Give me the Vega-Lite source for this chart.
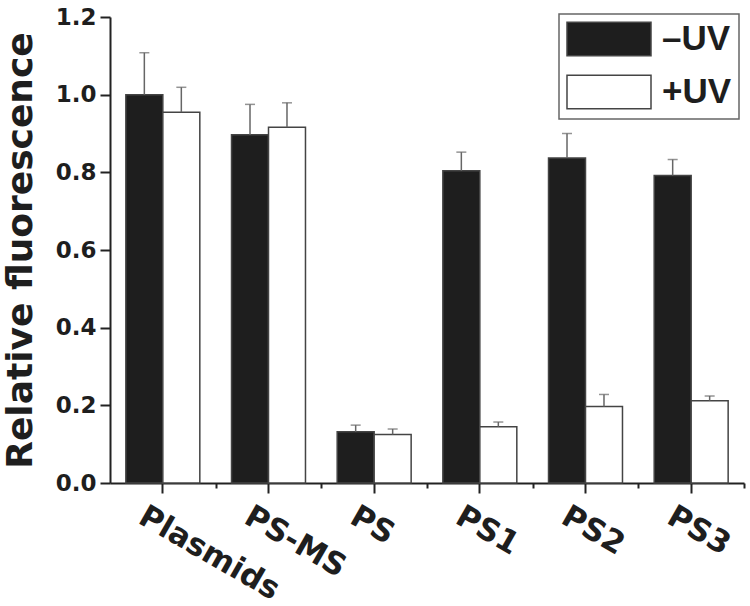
{
  "$schema": "https://vega.github.io/schema/vega-lite/v6.json",
  "width": 634,
  "height": 466,
  "autosize": {"type": "none"},
  "padding": {"left": 110, "top": 17, "right": 6, "bottom": 123},
  "background": "white",
  "config": {
    "view": {"stroke": null},
    "legend": {"strokeColor": "#666", "strokeWidth": 1.5, "fillColor": "white", "cornerRadius": 0, "padding": 7}
  },
  "data": {
    "values": [
      {"sample": "Plasmids", "cond": "–UV", "value": 1.0, "hi": 1.108},
      {"sample": "Plasmids", "cond": "+UV", "value": 0.955, "hi": 1.019},
      {"sample": "PS-MS", "cond": "–UV", "value": 0.897, "hi": 0.975},
      {"sample": "PS-MS", "cond": "+UV", "value": 0.916, "hi": 0.979},
      {"sample": "PS", "cond": "–UV", "value": 0.132, "hi": 0.149},
      {"sample": "PS", "cond": "+UV", "value": 0.125, "hi": 0.139},
      {"sample": "PS1", "cond": "–UV", "value": 0.804, "hi": 0.852},
      {"sample": "PS1", "cond": "+UV", "value": 0.145, "hi": 0.157},
      {"sample": "PS2", "cond": "–UV", "value": 0.837, "hi": 0.9},
      {"sample": "PS2", "cond": "+UV", "value": 0.197, "hi": 0.228},
      {"sample": "PS3", "cond": "–UV", "value": 0.792, "hi": 0.833},
      {"sample": "PS3", "cond": "+UV", "value": 0.212, "hi": 0.224}
    ]
  },
  "resolve": {"axis": {"x": "independent"}},
  "layer": [
    {
      "mark": {"type": "bar", "stroke": "#444", "strokeWidth": 1.5},
      "encoding": {
        "x": {
          "field": "sample", "type": "nominal", "sort": null,
          "scale": {"paddingInner": 0.3, "paddingOuter": 0.15},
          "axis": {
            "title": null, "orient": "bottom",
            "domainColor": "#222", "domainWidth": 2,
            "tickColor": "#222", "tickWidth": 2, "tickSize": 10,
            "labelAngle": 30, "labelAlign": "left", "labelBaseline": "top",
            "labelFont": "DejaVu Sans", "labelFontSize": 31, "labelFontWeight": "bold",
            "labelColor": "#1e1e1e", "labelPadding": 8, "labelOffset": -14
          }
        },
        "xOffset": {"field": "cond", "type": "nominal", "scale": {"domain": ["–UV", "+UV"]}},
        "y": {
          "field": "value", "type": "quantitative",
          "scale": {"domain": [0, 1.2], "nice": false},
          "axis": {
            "title": "Relative fluorescence",
            "titleFont": "DejaVu Sans", "titleFontSize": 36, "titleFontWeight": "bold",
            "titleColor": "#1e1e1e", "titlePadding": 16,
            "values": [0, 0.1, 0.2, 0.3, 0.4, 0.5, 0.6, 0.7, 0.8, 0.9, 1.0, 1.1, 1.2],
            "labelExpr": "round(datum.value*10) % 2 === 0 ? format(datum.value, '.1f') : ''",
            "grid": false,
            "domainColor": "#222", "domainWidth": 2,
            "tickColor": "#222", "tickWidth": 2,
            "tickSize": {"condition": {"test": "round(datum.value*10) % 2 === 0", "value": 10}, "value": 5},
            "labelFont": "DejaVu Sans", "labelFontSize": 23, "labelFontWeight": "bold",
            "labelColor": "#1e1e1e", "labelPadding": 4
          }
        },
        "fill": {
          "field": "cond", "type": "nominal",
          "scale": {"domain": ["–UV", "+UV"], "range": ["#1e1e1e", "#ffffff"]},
          "legend": {
            "title": null, "orient": "none", "legendX": 449, "legendY": -3,
            "symbolType": "M-2.5,-1H2.5V1H-2.5Z", "symbolSize": 1129,
            "symbolOffset": 25, "labelOffset": 35,
            "symbolStrokeColor": "#444", "symbolStrokeWidth": 1.5,
            "labelFont": "Liberation Sans", "labelFontSize": 35, "labelFontWeight": "bold",
            "labelColor": "#1e1e1e", "rowPadding": 13,
            "labelLimit": 300
          }
        }
      }
    },
    {
      "mark": {"type": "rule", "color": "#666", "strokeWidth": 1.5},
      "encoding": {
        "x": {
          "field": "sample", "type": "nominal", "sort": null,
          "axis": {
            "title": null, "orient": "bottom", "labels": false, "domain": false,
            "tickOffset": 52.8, "tickColor": "#222", "tickWidth": 2, "tickSize": 5
          }
        },
        "xOffset": {"field": "cond", "type": "nominal"},
        "y": {"field": "value", "type": "quantitative"},
        "y2": {"field": "hi"}
      }
    },
    {
      "mark": {"type": "tick", "color": "#666", "size": 10, "thickness": 1.5},
      "encoding": {
        "x": {"field": "sample", "type": "nominal", "sort": null, "axis": null},
        "xOffset": {"field": "cond", "type": "nominal"},
        "y": {"field": "hi", "type": "quantitative"}
      }
    }
  ]
}
